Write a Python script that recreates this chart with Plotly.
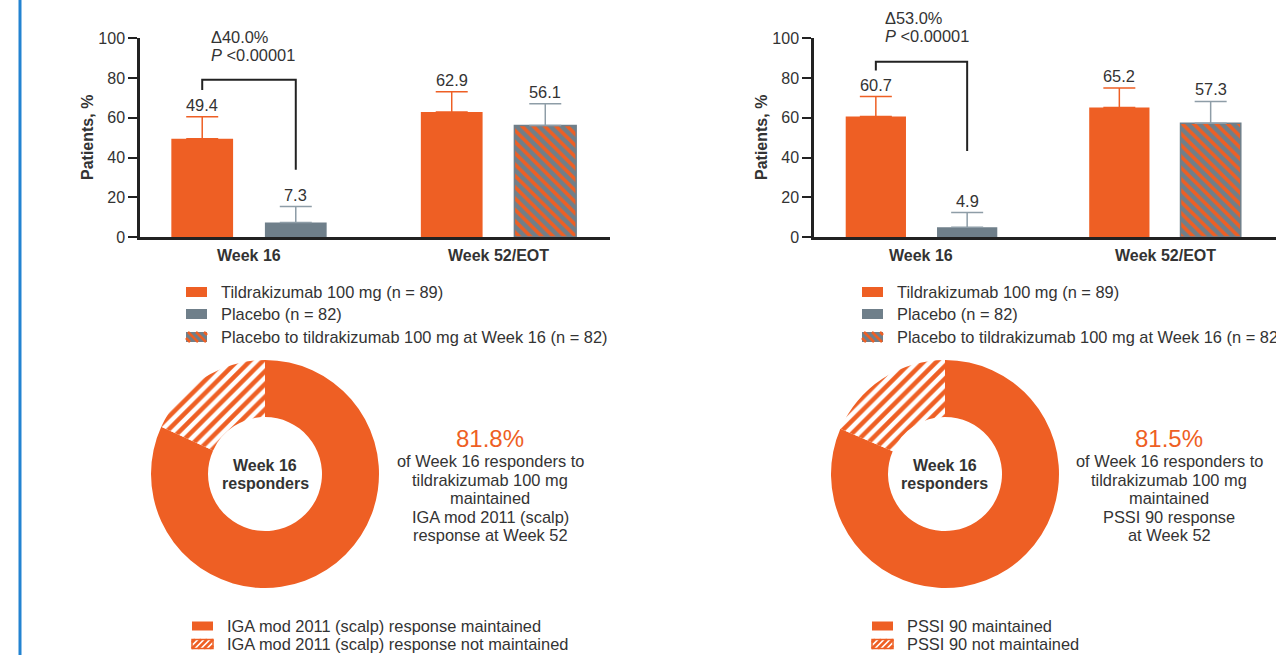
import plotly.graph_objects as go

W, H = 1276, 655

# ---- data -------------------------------------------------------------
categories = ["Week 16", "Week 52/EOT"]

# IGA mod 2011 (scalp) panel
iga_tildra = [49.4, 62.9]
iga_tildra_err = [11.1, 10.2]
iga_placebo = [7.3, None]
iga_placebo_err = [8.0, 0]
iga_switch = [None, 56.1]
iga_switch_err = [0, 10.9]
iga_delta = "Δ40.0%"
iga_maintained = [81.8, 18.2]

# PSSI 90 panel
pssi_tildra = [60.7, 65.2]
pssi_tildra_err = [10.0, 9.8]
pssi_placebo = [4.9, None]
pssi_placebo_err = [7.4, 0]
pssi_switch = [None, 57.3]
pssi_switch_err = [0, 10.9]
pssi_delta = "Δ53.0%"
pssi_maintained = [81.5, 18.5]

p_value = "<i>P</i> &lt;0.00001"
bar_legend = ["Tildrakizumab 100 mg (n = 89)", "Placebo (n = 82)",
              "Placebo to tildrakizumab 100 mg at Week 16 (n = 82)"]

# ---- style ------------------------------------------------------------
ORANGE = "#EE5F24"
GRAY = "#6F7F8A"
ERR_GRAY = "#8E9DA7"
TEXT = "#333333"
AXIS = "#222222"
BLUE = "#2383D1"
FONT = "Liberation Sans, Arial, sans-serif"
FS = 16
FS_BODY = 16.4

BARGAP = 0.25
BAR_OFF = (1 - BARGAP) / 4  # centre offset of each bar inside its group


def px(x):
    return x / W


def py(y):
    return 1 - y / H


fig = go.Figure()
shapes = []
annotations = []


def hatch_lines(x0, y0, x1, y1, step, direction, color, width):
    """Diagonal stripes clipped to a rectangle (pixel coordinates, y down)."""
    out = []
    if direction == "\\":
        # lines x - y = c
        c = x0 - y1 + step / 2
        while c < x1 - y0:
            ya, yb = max(y0, x0 - c), min(y1, x1 - c)
            if yb > ya:
                out.append(dict(type="line", xref="paper", yref="paper",
                                x0=px(ya + c), y0=py(ya), x1=px(yb + c), y1=py(yb),
                                line=dict(color=color, width=width)))
            c += step
    else:
        # lines x + y = c
        c = x0 + y0 + step / 2
        while c < x1 + y1:
            xa, xb = max(x0, c - y1), min(x1, c - y0)
            if xb > xa:
                out.append(dict(type="line", xref="paper", yref="paper",
                                x0=px(xa), y0=py(c - xa), x1=px(xb), y1=py(c - xb),
                                line=dict(color=color, width=width)))
            c += step
    return out


def text(x, y, s, size=FS_BODY, color=TEXT, xanchor="center", bold=False, angle=0):
    if bold:
        s = "<b>" + s + "</b>"
    annotations.append(dict(x=px(x), y=py(y), xref="paper", yref="paper", text=s,
                            showarrow=False, xanchor=xanchor, yanchor="middle",
                            textangle=angle, font=dict(size=size, color=color, family=FONT)))


def panel(idx, x_left, x_right, scale, tildra, tildra_err, placebo, placebo_err,
          switch, switch_err, delta, bracket, maintained, legend_pie, desc,
          dx_legend, dx_donut):
    xa = "x" if idx == 1 else "x%d" % idx
    ya = "y" if idx == 1 else "y%d" % idx
    xkey = "xaxis" if idx == 1 else "xaxis%d" % idx
    ykey = "yaxis" if idx == 1 else "yaxis%d" % idx

    # bar chart axes: y 0 at 237 px, 100 at 38.3 px
    centre0 = x_left + (109 if idx == 1 else 107.5)
    r0 = -(centre0 - x_left) / scale
    r1 = (x_right - centre0) / scale
    fig.update_layout(**{
        xkey: dict(domain=[px(x_left), px(x_right)], range=[r0, r1], type="category",
                   categoryorder="array", categoryarray=categories,
                   showline=True, linecolor=AXIS, linewidth=2.5, ticks="",
                   showticklabels=False, showgrid=False, zeroline=False,
                   anchor=ya, fixedrange=True, automargin=False),
        ykey: dict(domain=[py(237), py(38.3)], range=[0, 100], tickvals=[0, 20, 40, 60, 80, 100],
                   showline=True, linecolor=AXIS, linewidth=2.5, ticks="outside",
                   ticklen=9, tickwidth=2, tickcolor=AXIS, showgrid=False, zeroline=False,
                   tickfont=dict(size=FS, color=TEXT, family=FONT), anchor=xa,
                   fixedrange=True, automargin=False),
    })

    fig.add_trace(go.Bar(x=categories, y=tildra, xaxis=xa, yaxis=ya, offsetgroup="a",
                         marker=dict(color=ORANGE, line=dict(width=0)),
                         error_y=dict(type="data", array=tildra_err,
                                      arrayminus=[0, 0], symmetric=False,
                                      color=ORANGE, thickness=1.5, width=16),
                         showlegend=False, hoverinfo="skip"))
    fig.add_trace(go.Bar(x=categories, y=placebo, xaxis=xa, yaxis=ya, offsetgroup="b",
                         marker=dict(color=GRAY, line=dict(width=0)),
                         error_y=dict(type="data", array=placebo_err,
                                      arrayminus=[0, 0], symmetric=False,
                                      color=ERR_GRAY, thickness=1.5, width=16),
                         showlegend=False, hoverinfo="skip"))
    fig.add_trace(go.Bar(x=categories, y=switch, xaxis=xa, yaxis=ya, offsetgroup="b",
                         marker=dict(color=GRAY, line=dict(color=GRAY, width=1.5),
                                     pattern=dict(shape="\\", fgcolor=ORANGE, bgcolor=GRAY,
                                                  size=8, solidity=0.45, fillmode="replace")),
                         error_y=dict(type="data", array=switch_err,
                                      arrayminus=[0, 0], symmetric=False,
                                      color=ERR_GRAY, thickness=1.5, width=16),
                         showlegend=False, hoverinfo="skip"))

    # value labels above the error bars
    series = [(tildra, tildra_err, -BAR_OFF), (placebo, placebo_err, BAR_OFF),
              (switch, switch_err, BAR_OFF)]
    for vals, errs, off in series:
        for i, v in enumerate(vals):
            if v is None:
                continue
            annotations.append(dict(x=i + off, y=v + errs[i], xref=xa, yref=ya,
                                    text="%.1f" % v, showarrow=False, yanchor="bottom",
                                    yshift=1, font=dict(size=FS_BODY, color=TEXT, family=FONT)))

    # significance bracket between the Week 16 bars
    top, left_end, right_end = bracket
    shapes.append(dict(type="path", xref=xa, yref=ya,
                       path="M %f,%f L %f,%f L %f,%f L %f,%f" % (
                           -BAR_OFF, left_end, -BAR_OFF, top, BAR_OFF, top, BAR_OFF, right_end),
                       line=dict(color=AXIS, width=2)))
    dy = 37 if idx == 1 else 18
    text(x_left + 69, dy, delta, xanchor="left")
    text(x_left + 69, dy + 18, p_value, xanchor="left")

    # axis titles and category labels
    text(x_left - 53, 138, "Patients, %", size=FS, bold=True, angle=-90)
    for i, c in enumerate(categories):
        text(centre0 + i * scale, 256, c, size=FS, bold=True)

    # bar legend
    lx = 186 + dx_legend
    for j, (lab, yy) in enumerate(zip(bar_legend, [292, 314, 337])):
        x0, x1, y0, y1 = lx, lx + 21, yy - 5, yy + 5
        fill = ORANGE if j == 0 else GRAY
        shapes.append(dict(type="rect", xref="paper", yref="paper", x0=px(x0), x1=px(x1),
                           y0=py(y1), y1=py(y0), fillcolor=fill, line=dict(width=0)))
        if j == 2:
            shapes.extend(hatch_lines(x0, y0, x1, y1, 8, "\\", ORANGE, 2.5))
        text(lx + 33, yy, lab, xanchor="left")

    # donut of maintained responses
    cx = 265 + dx_donut
    fig.add_trace(go.Pie(values=maintained, labels=legend_pie, sort=False,
                         direction="clockwise", rotation=0, hole=0.5,
                         domain=dict(x=[px(cx - 114), px(cx + 114)], y=[py(588), py(360)]),
                         marker=dict(colors=[ORANGE, "white"], line=dict(width=0),
                                     pattern=dict(shape=["", "/"], fgcolor=ORANGE,
                                                  bgcolor=[ORANGE, "white"], size=9,
                                                  solidity=0.5, fillmode="replace")),
                         textinfo="none", hoverinfo="skip", showlegend=False))
    text(cx, 465, "Week 16", size=FS, bold=True)
    text(cx, 483, "responders", size=FS, bold=True)

    tx = 490 + dx_donut - (1 if idx == 2 else 0)
    text(tx, 438, "%.1f%%" % maintained[0], size=24, color=ORANGE)
    for k, line in enumerate(desc):
        text(tx, 461 + k * 18.5, line)

    # donut legend
    bx = 192 + dx_donut
    for j, (lab, yy) in enumerate(zip(legend_pie, [626, 644])):
        x0, x1, y0, y1 = bx, bx + 21, yy - 4.5, yy + 4.5
        if j == 0:
            shapes.append(dict(type="rect", xref="paper", yref="paper", x0=px(x0), x1=px(x1),
                               y0=py(y1), y1=py(y0), fillcolor=ORANGE, line=dict(width=0)))
        else:
            shapes.append(dict(type="rect", xref="paper", yref="paper", x0=px(x0), x1=px(x1),
                               y0=py(y1), y1=py(y0), fillcolor="white",
                               line=dict(color=ORANGE, width=1.5)))
            shapes.extend(hatch_lines(x0, y0, x1, y1, 6, "/", ORANGE, 2.5))
        text(bx + 33, yy, lab, xanchor="left")


panel(1, 140, 610, 249.5, iga_tildra, iga_tildra_err, iga_placebo, iga_placebo_err,
      iga_switch, iga_switch_err, iga_delta, (79.1, 74.0, 33.8), iga_maintained,
      ["IGA mod 2011 (scalp) response maintained",
       "IGA mod 2011 (scalp) response not maintained"],
      ["of Week 16 responders to", "tildrakizumab 100 mg", "maintained",
       "IGA mod 2011 (scalp)", "response at Week 52"],
      dx_legend=0, dx_donut=0)

panel(2, 814, 1276, 243.5, pssi_tildra, pssi_tildra_err, pssi_placebo, pssi_placebo_err,
      pssi_switch, pssi_switch_err, pssi_delta, (88.2, 83.8, 43.3), pssi_maintained,
      ["PSSI 90 maintained", "PSSI 90 not maintained"],
      ["of Week 16 responders to", "tildrakizumab 100 mg", "maintained",
       "PSSI 90 response", "at Week 52"],
      dx_legend=676, dx_donut=680)

# blue rule down the left edge
shapes.append(dict(type="line", xref="paper", yref="paper", x0=px(20), x1=px(20),
                   y0=0, y1=1, line=dict(color=BLUE, width=3)))

fig.update_layout(width=W, height=H, margin=dict(l=0, r=0, t=0, b=0, pad=0),
                  paper_bgcolor="white", plot_bgcolor="white",
                  barmode="group", bargap=BARGAP, bargroupgap=0.34,
                  shapes=shapes, annotations=annotations,
                  font=dict(family=FONT, color=TEXT), showlegend=False)

fig.write_html("out.html", config={"displayModeBar": False})
